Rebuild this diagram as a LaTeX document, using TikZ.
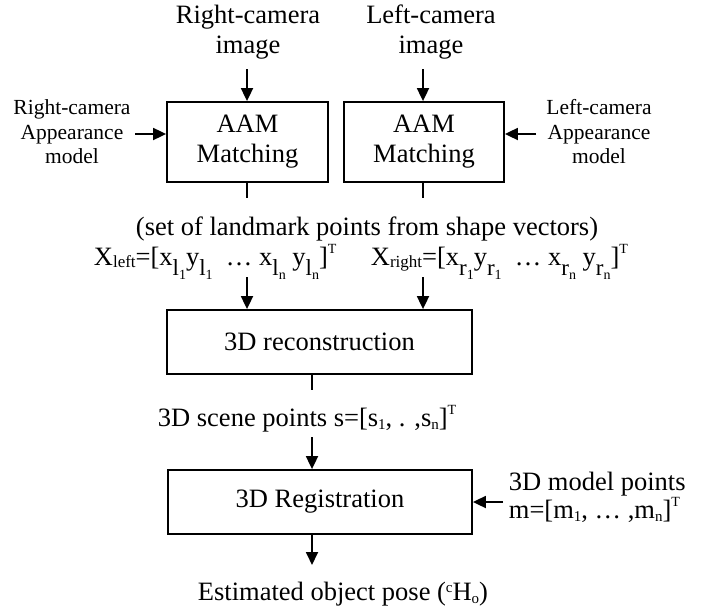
\documentclass[tikz,border=0pt]{standalone}
\usepackage{fontspec}
\setmainfont{Liberation Serif}
\usetikzlibrary{arrows.meta}
\newcommand{\mainsz}{\fontsize{26.5}{30}\selectfont}
\newcommand{\sidesz}{\fontsize{21.5}{24.5}\selectfont}
\newcommand{\modsz}{\fontsize{26.5}{25}\selectfont}
\newcommand{\lsb}[2]{\raisebox{-10pt}{\fontsize{23}{23}\selectfont #1}\raisebox{-14pt}{\fontsize{14}{14}\selectfont #2}}
\newcommand{\tsb}[1]{\raisebox{-2pt}{\fontsize{17}{17}\selectfont #1}}
\newcommand{\ssb}[1]{\raisebox{-3pt}{\fontsize{15}{15}\selectfont #1}}
\newcommand{\ssp}[1]{\raisebox{12pt}{\fontsize{14}{14}\selectfont #1}}
\begin{document}
\begin{tikzpicture}[x=1pt,y=-1pt,line width=1.8pt,
  arr/.style={-{Triangle[length=13pt,width=12pt]}},
  box/.style={draw,inner sep=0pt,align=center,font=\mainsz},
  txt/.style={inner sep=0pt,align=center,font=\mainsz},
  side/.style={inner sep=0pt,align=center,font=\sidesz}]
\useasboundingbox (0,0) rectangle (711,610);
% top labels
\node[txt] (rimg) at (248,32) {Right-camera\\image};
\node[txt] (limg) at (431,32) {Left-camera\\image};
% AAM boxes
\node[box,minimum width=161pt,minimum height=80pt] (raam) at (247.5,142) {AAM\\Matching};
\node[box,minimum width=160pt,minimum height=80pt] (laam) at (424,142) {AAM\\Matching};
% side labels
\node[side] (rmod) at (72,132) {Right-camera\\Appearance\\model};
\node[side] (lmod) at (599,132) {Left-camera\\Appearance\\model};
% landmark text
\node[txt,anchor=base] (land) at (367,235) {(set of landmark points from shape vectors)};
\node[txt,anchor=base west] (xl) at (93,265) {X\tsb{left}=[x\lsb{l}{1}y\lsb{l}{1}\ \ \dots\ x\lsb{l}{n}\ y\lsb{l}{n}]\ssp{T}};
\node[txt,anchor=base west] (xr) at (370,265) {X\tsb{right}=[x\lsb{r}{1}y\lsb{r}{1}\ \ \dots\ x\lsb{r}{n}\ y\lsb{r}{n}]\ssp{T}};
% reconstruction
\node[box,minimum width=305pt,minimum height=64pt] (recon) at (319.5,342) {3D reconstruction};
\node[txt,anchor=base west] (scene) at (157,426) {3D scene points s=[s\ssb{1}, . ,s\ssb{n}]\ssp{T}};
% registration
\node[box,minimum width=304pt,minimum height=64pt] (reg) at (320,502) {3D Registration};
\node[inner sep=0pt,align=left,font=\modsz,anchor=west] (model) at (508,497) {3D model points\\m=[m\ssb{1}, \dots\ ,m\ssb{n}]\ssp{T}};
\node[txt,anchor=base] (pose) at (343,600) {Estimated object pose (\raisebox{8pt}{\fontsize{15}{15}\selectfont c}H\ssb{o})};
% connectors
\coordinate (ra) at (247,69);
\coordinate (la) at (423,69);
\draw[arr] (ra) -- (ra |- raam.north);
\draw[arr] (la) -- (la |- laam.north);
\coordinate (rs) at (135,134);
\coordinate (ls) at (536,134);
\draw[arr] (rs) -- (rs -| raam.west);
\draw[arr] (ls) -- (ls -| laam.east);
\coordinate (rd) at (247,198);
\coordinate (ld) at (423,198);
\draw (ra |- raam.south) -- (rd);
\draw (la |- laam.south) -- (ld);
\coordinate (rx) at (247,277);
\coordinate (lx) at (423,277);
\draw[arr] (rx) -- (rx |- recon.north);
\draw[arr] (lx) -- (lx |- recon.north);
\coordinate (cd) at (312,390);
\draw (cd |- recon.south) -- (cd);
\coordinate (cs) at (312,437);
\draw[arr] (cs) -- (cs |- reg.north);
\coordinate (ce) at (312,565);
\draw[arr] (ce |- reg.south) -- (ce);
\coordinate (ms) at (503,502);
\draw[arr] (ms) -- (ms -| reg.east);
\end{tikzpicture}
\end{document}
